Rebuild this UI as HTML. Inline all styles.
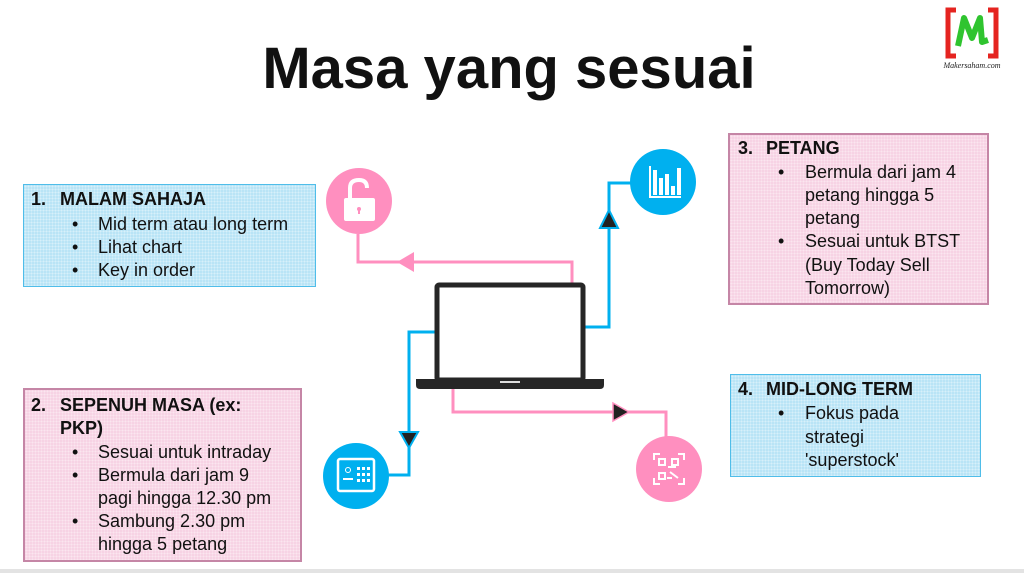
<!DOCTYPE html>
<html><head><meta charset="utf-8"><style>
*{margin:0;padding:0;box-sizing:border-box}
body{width:1024px;height:573px;background:#fff;position:relative;overflow:hidden;font-family:"Liberation Sans",Arial,sans-serif;color:#111}
.t{position:absolute;font-size:18px;line-height:20px;white-space:nowrap}
.b{font-weight:bold}
.box{position:absolute}
.blue{background-color:#b9e4f6;background-image:radial-gradient(#d7f0fa 0.8px,transparent 1px);background-size:3px 3px;border:1.5px solid #4fbde9}
.pink{background-color:#f7d3e4;background-image:radial-gradient(#fbe6ef 0.8px,transparent 1px);background-size:3px 3px;border:2px solid #c586a6}
</style></head><body>
<div class="t b" style="left:0;width:1018px;text-align:center;top:36px;font-size:58px;line-height:66px">Masa yang sesuai</div>

<div style="position:absolute;left:0;top:569px;width:1024px;height:4px;background:#e3e3e3"></div>

<!-- logo -->
<svg style="position:absolute;left:940px;top:6px" width="70" height="68" viewBox="0 0 70 68">
<path d="M16 4 H8 V50 H16" fill="none" stroke="#e52420" stroke-width="5"/>
<path d="M48 4 H56 V50 H48" fill="none" stroke="#e52420" stroke-width="5"/>
<path d="M18 40 L24 12 L32 32 L40 12 L42 36 L48 34" fill="none" stroke="#2fc42f" stroke-width="6" stroke-linejoin="round"/>
<text x="32" y="62" font-size="8" font-style="italic" text-anchor="middle" font-family="Liberation Serif,serif" fill="#222">Makersaham.com</text>
</svg>

<!-- diagram -->
<svg style="position:absolute;left:0;top:0" width="1024" height="573">
<g fill="none" stroke-width="3">
<polyline points="358,234 358,262 572,262 572,285" stroke="#ff8fbf"/>
<polyline points="584,327 609,327 609,183 632,183" stroke="#00b0ef"/>
<polyline points="436,332 409,332 409,475 386,475" stroke="#00b0ef"/>
<polyline points="453,389 453,412 666,412 666,440" stroke="#ff8fbf"/>
</g>
<polygon points="397,262 414,252 414,272" fill="#ff8fbf"/>
<polygon points="609,210 600,228 618,228" fill="#222" stroke="#00b0ef" stroke-width="2"/>
<polygon points="409,448 400,432 418,432" fill="#222" stroke="#00b0ef" stroke-width="2"/>
<polygon points="629,412 613,403 613,421" fill="#222" stroke="#ff8fbf" stroke-width="1.5"/>
<!-- laptop -->
<rect x="437" y="285" width="146" height="95" rx="2" fill="#fff" stroke="#262626" stroke-width="5"/>
<path d="M416 379 H604 V385 Q604 389 600 389 H420 Q416 389 416 385 Z" fill="#262626"/>
<rect x="500" y="381" width="20" height="2" fill="#ddd"/>
<!-- circles -->
<circle cx="359" cy="201" r="33" fill="#ff8fbf"/>
<rect x="344" y="198" width="31" height="23" rx="2" fill="#fff"/>
<path d="M350 198 V188 Q350 180 359 180 Q367 180 367 188" fill="none" stroke="#fff" stroke-width="4"/>
<circle cx="359" cy="209" r="2" fill="#ff8fbf"/><rect x="358" y="209" width="2" height="5" fill="#ff8fbf"/>
<circle cx="663" cy="182" r="33" fill="#00b0ef"/>
<g fill="#fff"><rect x="649" y="166" width="2" height="32"/><rect x="649" y="196" width="32" height="2"/>
<rect x="653" y="170" width="4" height="25"/><rect x="659" y="178" width="4" height="17"/><rect x="665" y="174" width="4" height="21"/><rect x="671" y="186" width="4" height="9"/><rect x="677" y="168" width="4" height="27"/></g>
<circle cx="356" cy="476" r="33" fill="#00b0ef"/>
<rect x="338" y="459" width="36" height="32" rx="2" fill="none" stroke="#fff" stroke-width="2.5"/>
<g fill="#fff"><circle cx="348" cy="470" r="2.5" fill="none" stroke="#fff"/><rect x="343" y="478" width="10" height="2"/>
<rect x="357" y="467" width="3" height="3"/><rect x="362" y="467" width="3" height="3"/><rect x="367" y="467" width="3" height="3"/>
<rect x="357" y="473" width="3" height="3"/><rect x="362" y="473" width="3" height="3"/><rect x="367" y="473" width="3" height="3"/>
<rect x="357" y="479" width="3" height="3"/><rect x="362" y="479" width="3" height="3"/><rect x="367" y="479" width="3" height="3"/></g>
<circle cx="669" cy="469" r="33" fill="#ff8fbf"/>
<g fill="none" stroke="#fff" stroke-width="2"><path d="M654 460 V454 H660 M678 454 H684 V460 M684 478 V484 H678 M660 484 H654 V478"/>
<rect x="659" y="459" width="6" height="6"/><rect x="672" y="459" width="6" height="6"/><rect x="659" y="473" width="6" height="6"/>
<path d="M668 467 H676 M670 472 L678 478 M667 478 H672"/></g>
</svg>

<div class="box blue" style="left:23px;top:184px;width:293px;height:103px"></div>
<div class="box pink" style="left:23px;top:388px;width:279px;height:174px"></div>
<div class="box pink" style="left:728px;top:133px;width:261px;height:172px"></div>
<div class="box blue" style="left:730px;top:374px;width:251px;height:103px"></div>

<div class="t b" style="left:31px;top:189px">1.</div><div class="t b" style="left:60px;top:189px">MALAM SAHAJA</div>
<div class="t" style="left:72px;top:214px">•</div><div class="t" style="left:98px;top:214px">Mid term atau long term</div>
<div class="t" style="left:72px;top:237px">•</div><div class="t" style="left:98px;top:237px">Lihat chart</div>
<div class="t" style="left:72px;top:260px">•</div><div class="t" style="left:98px;top:260px">Key in order</div>

<div class="t b" style="left:31px;top:395px">2.</div><div class="t b" style="left:60px;top:395px">SEPENUH MASA (ex:</div>
<div class="t b" style="left:60px;top:418px">PKP)</div>
<div class="t" style="left:72px;top:442px">•</div><div class="t" style="left:98px;top:442px">Sesuai untuk intraday</div>
<div class="t" style="left:72px;top:465px">•</div><div class="t" style="left:98px;top:465px">Bermula dari jam 9</div>
<div class="t" style="left:98px;top:488px">pagi hingga 12.30 pm</div>
<div class="t" style="left:72px;top:511px">•</div><div class="t" style="left:98px;top:511px">Sambung 2.30 pm</div>
<div class="t" style="left:98px;top:534px">hingga 5 petang</div>

<div class="t b" style="left:738px;top:138px">3.</div><div class="t b" style="left:766px;top:138px">PETANG</div>
<div class="t" style="left:778px;top:162px">•</div><div class="t" style="left:805px;top:162px">Bermula dari jam 4</div>
<div class="t" style="left:805px;top:185px">petang hingga 5</div>
<div class="t" style="left:805px;top:208px">petang</div>
<div class="t" style="left:778px;top:231px">•</div><div class="t" style="left:805px;top:231px">Sesuai untuk BTST</div>
<div class="t" style="left:805px;top:255px">(Buy Today Sell</div>
<div class="t" style="left:805px;top:278px">Tomorrow)</div>

<div class="t b" style="left:738px;top:379px">4.</div><div class="t b" style="left:766px;top:379px">MID-LONG TERM</div>
<div class="t" style="left:778px;top:403px">•</div><div class="t" style="left:805px;top:403px">Fokus pada</div>
<div class="t" style="left:805px;top:427px">strategi</div>
<div class="t" style="left:805px;top:450px">'superstock'</div>
</body></html>
